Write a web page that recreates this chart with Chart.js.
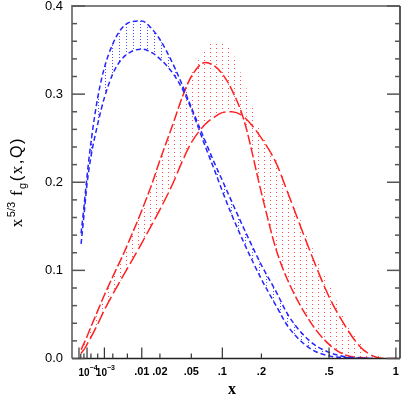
<!DOCTYPE html>
<html>
<head>
<meta charset="utf-8">
<script src="https://cdn.jsdelivr.net/npm/chart.js@4.4.1/dist/chart.umd.min.js"></script>
<style>
  html, body { margin: 0; padding: 0; background: #fff; }
  #wrap { width: 405px; height: 401px; }
</style>
</head>
<body>
<div id="wrap"><canvas id="grafico" width="405" height="401"></canvas></div>
<script>
// valores de x (eixo em escala x^(1/3))
const xs = [2.2e-5, 5e-5, 1e-4, 2e-4, 5e-4, 1e-3, 2e-3, 3.5e-3, 6e-3, 0.01, 0.015, 0.02, 0.03, 0.04, 0.05,
  0.07, 0.085, 0.1, 0.12, 0.15, 0.2, 0.25, 0.3, 0.4, 0.5, 0.6, 0.7, 0.8, 0.9, 1];

// curvas azuis (tracejado curto) e faixa pontilhada entre elas
const azulSup = [0.142, 0.172, 0.207, 0.245, 0.296, 0.330, 0.357, 0.374, 0.382, 0.383, 0.374, 0.362, 0.335, 0.309, 0.285,
  0.246, 0.222, 0.202, 0.178, 0.147, 0.106, 0.076, 0.048, 0.019, 0.007, 0.002, 0.0005, 0, null, null];
const azulInf = [0.130, 0.162, 0.198, 0.229, 0.266, 0.296, 0.323, 0.339, 0.348, 0.351, 0.347, 0.340, 0.324, 0.305, 0.283,
  0.240, 0.214, 0.190, 0.163, 0.131, 0.090, 0.060, 0.035, 0.011, 0.003, 0.001, 0, 0, null, null];

// curvas vermelhas (tracejado longo)
const vermA = [0.010, 0.017, 0.025, 0.036, 0.054, 0.072, 0.093, 0.113, 0.138, 0.168, 0.198, 0.225, 0.265, 0.298, 0.320,
  0.336, 0.332, 0.323, 0.305, 0.270, 0.188, 0.124, 0.086, 0.041, 0.016, 0.004, 0.001, 0, null, null];
const vermB = [0.006, 0.010, 0.016, 0.024, 0.039, 0.055, 0.073, 0.090, 0.109, 0.131, 0.152, 0.169, 0.198, 0.225, 0.245,
  0.266, 0.274, 0.279, 0.280, 0.274, 0.250, 0.222, 0.185, 0.120, 0.070, 0.037, 0.014, 0.003, 0, 0];

// faixa pontilhada vermelha
const faixaVermSup = [0.010, 0.017, 0.025, 0.036, 0.054, 0.072, 0.093, 0.113, 0.138, 0.168, 0.198, 0.225, 0.265, 0.298, 0.323,
  0.352, 0.359, 0.360, 0.348, 0.314, 0.256, 0.226, 0.190, 0.130, 0.085, 0.045, 0.018, 0.006, 0.001, 0];
const faixaVermInf = [0.006, 0.010, 0.016, 0.024, 0.039, 0.055, 0.073, 0.090, 0.109, 0.131, 0.152, 0.169, 0.198, 0.225, 0.245,
  0.266, 0.274, 0.279, 0.280, 0.270, 0.188, 0.124, 0.086, 0.041, 0.016, 0.004, 0.001, 0, 0, 0];

// marcas dos eixos
const ticksX = [1e-5, 2e-5, 5e-5, 1e-4, 2e-4, 5e-4, 1e-3, 2e-3, 5e-3, 0.01, 0.02, 0.05, 0.1, 0.2, 0.5, 1];
const ticksXLongos = [1e-5, 1e-4, 1e-3, 0.01, 0.1, 0.5, 1];
const rotulosXValor = [1e-4, 1e-3, 0.01, 0.02, 0.05, 0.1, 0.2, 0.5, 1];
const rotulosXTexto = ['10|-4', '10|-3', '.01', '.02', '.05', '.1', '.2', '.5', '1'];
const ticksY = [0, 0.1, 0.2, 0.3, 0.4];
const rotulosY = ['0.0', '0.1', '0.2', '0.3', '0.4'];

const U_MAX = 1.0127;
const pontos = (ys) => xs.map((x, i) => ({ x: Math.cbrt(x), y: ys[i] }));

function padraoPontos(cor, dx, dy) {
  const c = document.createElement('canvas');
  c.width = dx; c.height = dy;
  const g = c.getContext('2d');
  g.fillStyle = cor;
  g.fillRect(0, 0, 1, 1);
  return g.createPattern(c, 'repeat');
}

const ctx = document.getElementById('grafico').getContext('2d');
const padraoAzul = padraoPontos('rgba(70,70,255,0.95)', 7, 3);
const padraoVerm = padraoPontos('rgba(255,70,70,0.95)', 6, 4);

const eixosDesenhados = {
  id: 'eixosDesenhados',
  afterDraw(chart) {
    const { ctx: g, chartArea: a, scales: { x, y } } = chart;
    const linha = (x1, y1, x2, y2) => { g.beginPath(); g.moveTo(x1, y1); g.lineTo(x2, y2); g.stroke(); };
    g.save();

    // moldura
    g.lineWidth = 2; g.strokeStyle = '#808080';
    linha(a.left, a.bottom, a.left, a.top - 1);
    linha(a.left, a.top, a.right, a.top);
    g.lineWidth = 1.5; g.strokeStyle = '#222';
    linha(a.right, a.top, a.right, a.bottom);
    linha(a.left, a.bottom, a.right, a.bottom);

    // marcas do eixo y (esquerda e direita)
    g.lineWidth = 1.5; g.strokeStyle = '#555';
    for (let k = 0; k <= 20; k++) {
      const py = y.getPixelForValue(k * 0.02);
      const len = k % 5 === 0 ? 13 : 5;
      linha(a.left, py, a.left + len, py);
      linha(a.right, py, a.right - len, py);
    }
    g.fillStyle = '#000';
    g.font = '13px "Liberation Sans", Arial, sans-serif';
    g.textAlign = 'right'; g.textBaseline = 'middle';
    ticksY.forEach((v, i) => g.fillText(rotulosY[i], a.left - 9, y.getPixelForValue(v)));

    // marcas do eixo x
    g.strokeStyle = '#333'; g.lineWidth = 1.2;
    ticksX.forEach(v => {
      const px = x.getPixelForValue(Math.cbrt(v));
      const len = ticksXLongos.includes(v) ? 11 : 5;
      linha(px, a.bottom, px, a.bottom - len);
    });
    g.textBaseline = 'middle';
    rotulosXValor.forEach((v, i) => {
      const px = x.getPixelForValue(Math.cbrt(v));
      const t = rotulosXTexto[i];
      if (t.includes('|')) {
        const [base, exp] = t.split('|');
        const sup = '\u2212' + exp.slice(1);
        g.font = 'bold 10px "Liberation Sans", Arial, sans-serif';
        const wb = g.measureText(base).width;
        g.font = 'bold 7px "Liberation Sans", Arial, sans-serif';
        const we = g.measureText(sup).width;
        const x0 = px - (wb + we) / 2 + 1;
        g.textAlign = 'left';
        g.font = 'bold 10px "Liberation Sans", Arial, sans-serif';
        g.fillText(base, x0, 373);
        g.font = 'bold 7px "Liberation Sans", Arial, sans-serif';
        g.fillText(sup, x0 + wb, 368);
      } else {
        g.textAlign = 'center';
        g.font = 'bold 11px "Liberation Sans", Arial, sans-serif';
        g.fillText(t, px, 372);
      }
    });

    // titulo do eixo x
    g.textAlign = 'center';
    g.font = 'bold 16px "Liberation Serif", "DejaVu Serif", serif';
    g.fillText('x', 232, 390);

    // titulo do eixo y: x^{5/3} f_g(x,Q)
    const partes = [
      ['x', '17px "Liberation Serif", serif', 0],
      ['5/3', '11px "Liberation Sans", sans-serif', -7],
      [' f', '17px "Liberation Serif", serif', 0],
      ['g', '11px "Liberation Sans", sans-serif', 4],
      ['(', '17px "Liberation Sans", sans-serif', 0],
      ['x', '17px "Liberation Serif", serif', 0],
      [',', '17px "Liberation Sans", sans-serif', 0],
      ['Q', '16px "Liberation Sans", sans-serif', 0],
      [')', '17px "Liberation Sans", sans-serif', 0]
    ];
    const esp = 1.5;
    let total = 0;
    partes.forEach(([t, f]) => { g.font = f; total += g.measureText(t).width + esp; });
    g.translate(22, 182);
    g.rotate(-Math.PI / 2);
    g.textAlign = 'left'; g.textBaseline = 'alphabetic';
    let cx = -total / 2;
    partes.forEach(([t, f, dy]) => {
      g.font = f;
      g.fillText(t, cx, dy);
      cx += g.measureText(t).width + esp;
    });
    g.restore();
  }
};

const linhaBase = { pointRadius: 0, borderWidth: 1.5, tension: 0.4, cubicInterpolationMode: 'monotone', spanGaps: false };

new Chart(ctx, {
  type: 'line',
  data: {
    datasets: [
      { ...linhaBase, label: 'faixa vermelha sup', data: pontos(faixaVermSup), borderWidth: 0, borderColor: 'rgba(0,0,0,0)',
        fill: 1, backgroundColor: padraoVerm },
      { ...linhaBase, label: 'faixa vermelha inf', data: pontos(faixaVermInf), borderWidth: 0, borderColor: 'rgba(0,0,0,0)', fill: false },
      { ...linhaBase, label: 'azul sup', data: pontos(azulSup), borderColor: '#2424ff', borderDash: [5, 3],
        fill: 3, backgroundColor: padraoAzul },
      { ...linhaBase, label: 'azul inf', data: pontos(azulInf), borderColor: '#2424ff', borderDash: [5, 3], fill: false },
      { ...linhaBase, label: 'vermelha A', data: pontos(vermA), borderColor: '#ff2020', borderDash: [10, 3], fill: false },
      { ...linhaBase, label: 'vermelha B', data: pontos(vermB), borderColor: '#ff2020', borderDash: [13, 4], fill: false }
    ]
  },
  options: {
    responsive: false,
    animation: false,
    layout: { padding: { left: 72, top: 6, right: 5, bottom: 42.5 } },
    plugins: { legend: { display: false }, tooltip: { enabled: false } },
    scales: {
      x: { type: 'linear', min: 0, max: U_MAX, display: false },
      y: { type: 'linear', min: 0, max: 0.4, display: false }
    }
  },
  plugins: [eixosDesenhados]
});
</script>
</body>
</html>
